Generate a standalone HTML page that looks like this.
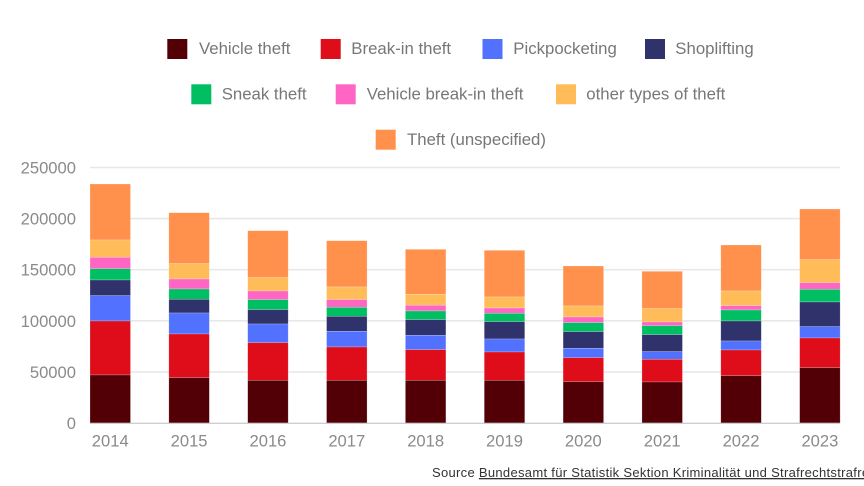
<!DOCTYPE html>
<html>
<head>
<meta charset="utf-8">
<style>
  html,body{margin:0;padding:0;background:#fff;width:864px;height:486px;overflow:hidden;}
  svg{display:block;font-family:"Liberation Sans",Arial,sans-serif;}
  .o{fill:#ff914d}.y{fill:#ffbc59}.p{fill:#ff66c4}.g{fill:#00bf63}
  .n{fill:#30336b}.b{fill:#5271ff}.r{fill:#df0c1a}.m{fill:#520005}
  .bars rect{stroke:rgba(255,255,255,0.35);stroke-width:0.6}
  .lg{font-size:16.8px;fill:#777}
  .ax{font-size:16.6px;fill:#8a8a8a}
</style>
</head>
<body>
<svg width="864" height="486" viewBox="0 0 864 486" xmlns="http://www.w3.org/2000/svg">
  <!-- Legend -->
  <rect x="167.3" y="39" width="20" height="20" class="m"/>
  <text x="199" y="54" class="lg">Vehicle theft</text>
  <rect x="320.7" y="39" width="20" height="20" class="r"/>
  <text x="351.3" y="54" class="lg">Break-in theft</text>
  <rect x="482.5" y="39" width="20" height="20" class="b"/>
  <text x="513.3" y="54" class="lg">Pickpocketing</text>
  <rect x="645" y="39" width="20" height="20" class="n"/>
  <text x="675.3" y="54" class="lg">Shoplifting</text>

  <rect x="191.3" y="84.3" width="20" height="20" class="g"/>
  <text x="221.7" y="99.5" class="lg">Sneak theft</text>
  <rect x="335.7" y="84.3" width="20" height="20" class="p"/>
  <text x="366.7" y="99.5" class="lg">Vehicle break-in theft</text>
  <rect x="556" y="84.3" width="20" height="20" class="y"/>
  <text x="586.3" y="99.5" class="lg">other types of theft</text>

  <rect x="375.7" y="129.7" width="20" height="20" class="o"/>
  <text x="407" y="144.8" class="lg">Theft (unspecified)</text>

  <!-- Gridlines -->
  <g stroke="#e8e8e8" stroke-width="1.6">
    <line x1="90" y1="167.5" x2="840" y2="167.5"/>
    <line x1="90" y1="218.6" x2="840" y2="218.6"/>
    <line x1="90" y1="269.7" x2="840" y2="269.7"/>
    <line x1="90" y1="320.8" x2="840" y2="320.8"/>
    <line x1="90" y1="371.9" x2="840" y2="371.9"/>
  </g>

  <!-- Y labels -->
  <g class="ax" text-anchor="end">
    <text x="76" y="173.5">250000</text>
    <text x="76" y="224.6">200000</text>
    <text x="76" y="275.7">150000</text>
    <text x="76" y="326.8">100000</text>
    <text x="76" y="377.9">50000</text>
    <text x="76" y="429">0</text>
  </g>

  <!-- Bars -->
  <g class="bars">
    <g transform="translate(90,0)">
      <rect width="40.5" y="184" height="56" class="o"/>
      <rect width="40.5" y="240" height="17.3" class="y"/>
      <rect width="40.5" y="257.3" height="11.4" class="p"/>
      <rect width="40.5" y="268.7" height="11.3" class="g"/>
      <rect width="40.5" y="280" height="15.7" class="n"/>
      <rect width="40.5" y="295.7" height="25.3" class="b"/>
      <rect width="40.5" y="321" height="54" class="r"/>
      <rect width="40.5" y="375" height="48" class="m"/>
    </g>
    <g transform="translate(168.85,0)">
      <rect width="40.5" y="212.7" height="51" class="o"/>
      <rect width="40.5" y="263.7" height="15.3" class="y"/>
      <rect width="40.5" y="279" height="10" class="p"/>
      <rect width="40.5" y="289" height="10.3" class="g"/>
      <rect width="40.5" y="299.3" height="13.7" class="n"/>
      <rect width="40.5" y="313" height="21" class="b"/>
      <rect width="40.5" y="334" height="43.7" class="r"/>
      <rect width="40.5" y="377.7" height="45.3" class="m"/>
    </g>
    <g transform="translate(247.7,0)">
      <rect width="40.5" y="230.7" height="47" class="o"/>
      <rect width="40.5" y="277.7" height="13.3" class="y"/>
      <rect width="40.5" y="291" height="8.7" class="p"/>
      <rect width="40.5" y="299.7" height="10" class="g"/>
      <rect width="40.5" y="309.7" height="14.3" class="n"/>
      <rect width="40.5" y="324" height="18.7" class="b"/>
      <rect width="40.5" y="342.7" height="37.6" class="r"/>
      <rect width="40.5" y="380.3" height="42.7" class="m"/>
    </g>
    <g transform="translate(326.55,0)">
      <rect width="40.5" y="240.7" height="46.3" class="o"/>
      <rect width="40.5" y="287" height="12.7" class="y"/>
      <rect width="40.5" y="299.7" height="7.6" class="p"/>
      <rect width="40.5" y="307.3" height="9" class="g"/>
      <rect width="40.5" y="316.3" height="15" class="n"/>
      <rect width="40.5" y="331.3" height="15.7" class="b"/>
      <rect width="40.5" y="347" height="33.3" class="r"/>
      <rect width="40.5" y="380.3" height="42.7" class="m"/>
    </g>
    <g transform="translate(405.4,0)">
      <rect width="40.5" y="249.3" height="45" class="o"/>
      <rect width="40.5" y="294.3" height="11" class="y"/>
      <rect width="40.5" y="305.3" height="5.7" class="p"/>
      <rect width="40.5" y="311" height="8.7" class="g"/>
      <rect width="40.5" y="319.7" height="15.6" class="n"/>
      <rect width="40.5" y="335.3" height="14.4" class="b"/>
      <rect width="40.5" y="349.7" height="30.6" class="r"/>
      <rect width="40.5" y="380.3" height="42.7" class="m"/>
    </g>
    <g transform="translate(484.25,0)">
      <rect width="40.5" y="250.3" height="46.7" class="o"/>
      <rect width="40.5" y="297" height="11" class="y"/>
      <rect width="40.5" y="308" height="5.3" class="p"/>
      <rect width="40.5" y="313.3" height="8.4" class="g"/>
      <rect width="40.5" y="321.7" height="17.3" class="n"/>
      <rect width="40.5" y="339" height="13" class="b"/>
      <rect width="40.5" y="352" height="28.3" class="r"/>
      <rect width="40.5" y="380.3" height="42.7" class="m"/>
    </g>
    <g transform="translate(563.1,0)">
      <rect width="40.5" y="266" height="40" class="o"/>
      <rect width="40.5" y="306" height="11" class="y"/>
      <rect width="40.5" y="317" height="5.7" class="p"/>
      <rect width="40.5" y="322.7" height="9" class="g"/>
      <rect width="40.5" y="331.7" height="16.6" class="n"/>
      <rect width="40.5" y="348.3" height="9.4" class="b"/>
      <rect width="40.5" y="357.7" height="24" class="r"/>
      <rect width="40.5" y="381.7" height="41.3" class="m"/>
    </g>
    <g transform="translate(641.95,0)">
      <rect width="40.5" y="271.3" height="37.4" class="o"/>
      <rect width="40.5" y="308.7" height="13.3" class="y"/>
      <rect width="40.5" y="322" height="3.7" class="p"/>
      <rect width="40.5" y="325.7" height="9" class="g"/>
      <rect width="40.5" y="334.7" height="17" class="n"/>
      <rect width="40.5" y="351.7" height="7.6" class="b"/>
      <rect width="40.5" y="359.3" height="22.7" class="r"/>
      <rect width="40.5" y="382" height="41" class="m"/>
    </g>
    <g transform="translate(720.8,0)">
      <rect width="40.5" y="245" height="46" class="o"/>
      <rect width="40.5" y="291" height="14.7" class="y"/>
      <rect width="40.5" y="305.7" height="4.3" class="p"/>
      <rect width="40.5" y="310" height="11" class="g"/>
      <rect width="40.5" y="321" height="20" class="n"/>
      <rect width="40.5" y="341" height="9" class="b"/>
      <rect width="40.5" y="350" height="25.7" class="r"/>
      <rect width="40.5" y="375.7" height="47.3" class="m"/>
    </g>
    <g transform="translate(799.65,0)">
      <rect width="40.5" y="209" height="50.7" class="o"/>
      <rect width="40.5" y="259.7" height="23" class="y"/>
      <rect width="40.5" y="282.7" height="6.6" class="p"/>
      <rect width="40.5" y="289.3" height="12.7" class="g"/>
      <rect width="40.5" y="302" height="24.7" class="n"/>
      <rect width="40.5" y="326.7" height="11.3" class="b"/>
      <rect width="40.5" y="338" height="29.7" class="r"/>
      <rect width="40.5" y="367.7" height="55.3" class="m"/>
    </g>
  </g>

  <!-- Baseline -->
  <line x1="90" y1="423.2" x2="840" y2="423.2" stroke="#bdbdbd" stroke-width="1"/>

  <!-- X labels -->
  <g class="ax" text-anchor="middle">
    <text x="110.25" y="446.5">2014</text>
    <text x="189.1" y="446.5">2015</text>
    <text x="267.95" y="446.5">2016</text>
    <text x="346.8" y="446.5">2017</text>
    <text x="425.65" y="446.5">2018</text>
    <text x="504.5" y="446.5">2019</text>
    <text x="583.35" y="446.5">2020</text>
    <text x="662.2" y="446.5">2021</text>
    <text x="741.05" y="446.5">2022</text>
    <text x="819.9" y="446.5">2023</text>
  </g>

  <!-- Source -->
  <text x="432" y="477" font-size="13" fill="#333" letter-spacing="0.3">Source <tspan text-decoration="underline">Bundesamt für Statistik Sektion Kriminalität und Strafrechtstrafrecht</tspan></text>
</svg>
</body>
</html>
